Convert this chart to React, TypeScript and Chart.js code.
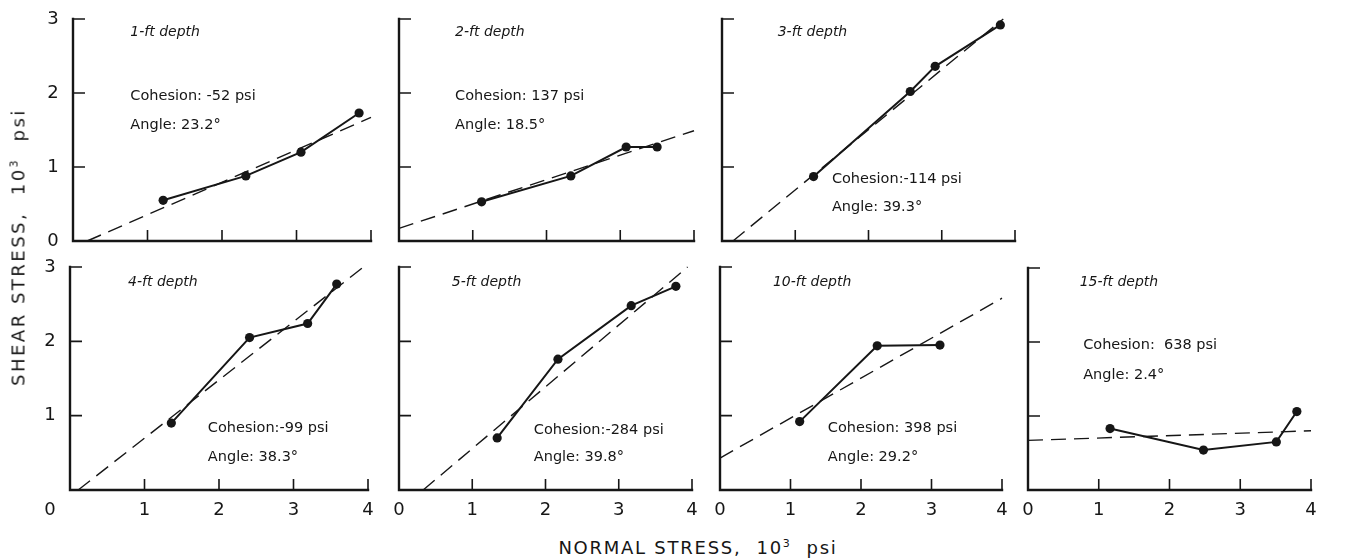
import React, { useEffect, useRef } from "react";
import { Chart, registerables } from "chart.js";

Chart.register(...registerables);

// ---------- data ----------
const xTickValues = [0, 1, 2, 3, 4];
const xTickLabels = ["0", "1", "2", "3", "4"];
const yTickValues = [0, 1, 2, 3];
const yTickLabels = ["0", "1", "2", "3"];

const depthLabels = ["1-ft depth", "2-ft depth", "3-ft depth", "4-ft depth", "5-ft depth", "10-ft depth", "15-ft depth"];
const cohesionLabels = [
  "Cohesion: -52 psi",
  "Cohesion: 137 psi",
  "Cohesion:-114 psi",
  "Cohesion:-99 psi",
  "Cohesion:-284 psi",
  "Cohesion: 398 psi",
  "Cohesion:  638 psi",
];
const angleLabels = ["Angle: 23.2°", "Angle: 18.5°", "Angle: 39.3°", "Angle: 38.3°", "Angle: 39.8°", "Angle: 29.2°", "Angle: 2.4°"];

// measured points (normal stress, shear stress; 10^3 psi)
const depth1X = [1.21, 2.32, 3.06, 3.84];
const depth1Y = [0.55, 0.88, 1.2, 1.73];
const depth2X = [1.12, 2.33, 3.08, 3.5];
const depth2Y = [0.53, 0.88, 1.27, 1.27];
const depth3X = [1.25, 2.57, 2.91, 3.8];
const depth3Y = [0.87, 2.02, 2.36, 2.92];
const depth4X = [1.36, 2.41, 3.19, 3.58];
const depth4Y = [0.9, 2.05, 2.24, 2.77];
const depth5X = [1.34, 2.17, 3.17, 3.78];
const depth5Y = [0.7, 1.76, 2.48, 2.74];
const depth10X = [1.13, 2.23, 3.12];
const depth10Y = [0.92, 1.94, 1.95];
const depth15X = [1.16, 2.48, 3.51, 3.8];
const depth15Y = [0.83, 0.54, 0.65, 1.06];

// fitted Mohr-Coulomb envelopes (end points)
const fit1X = [0.19, 4.0];
const fit1Y = [0.0, 1.67];
const fit2X = [0.0, 4.0];
const fit2Y = [0.17, 1.49];
const fit3X = [0.15, 3.84];
const fit3Y = [0.0, 3.0];
const fit4X = [0.11, 3.94];
const fit4Y = [0.0, 3.0];
const fit5X = [0.33, 3.94];
const fit5Y = [0.0, 3.0];
const fit10X = [0.0, 4.0];
const fit10Y = [0.43, 2.58];
const fit15X = [0.0, 4.0];
const fit15Y = [0.67, 0.8];

// ---------- layout ----------
const PAD = { left: 50, right: 14, top: 12, bottom: 36 };
const FONT = '"DejaVu Sans", "Liberation Sans", sans-serif';

type Panel = {
  box: { left: number; right: number; top: number; bottom: number };
  mx: number[]; my: number[]; fx: number[]; fy: number[];
  depthAt: [number, number]; cohAt: [number, number]; angAt: [number, number];
  yLabels: boolean; yZero: boolean; xLabels: boolean; xZeroAtYCol: boolean;
};

const panels: Panel[] = [
  { box: { left: 73, right: 371, top: 19, bottom: 241 }, mx: depth1X, my: depth1Y, fx: fit1X, fy: fit1Y,
    depthAt: [0.77, 2.82], cohAt: [0.77, 1.95], angAt: [0.77, 1.57], yLabels: true, yZero: true, xLabels: false, xZeroAtYCol: false },
  { box: { left: 399, right: 694, top: 19, bottom: 241 }, mx: depth2X, my: depth2Y, fx: fit2X, fy: fit2Y,
    depthAt: [0.76, 2.82], cohAt: [0.76, 1.95], angAt: [0.76, 1.56], yLabels: false, yZero: false, xLabels: false, xZeroAtYCol: false },
  { box: { left: 722, right: 1015, top: 19, bottom: 241 }, mx: depth3X, my: depth3Y, fx: fit3X, fy: fit3Y,
    depthAt: [0.76, 2.82], cohAt: [1.5, 0.84], angAt: [1.5, 0.46], yLabels: false, yZero: false, xLabels: false, xZeroAtYCol: false },
  { box: { left: 70, right: 368, top: 267, bottom: 490 }, mx: depth4X, my: depth4Y, fx: fit4X, fy: fit4Y,
    depthAt: [0.78, 2.8], cohAt: [1.85, 0.83], angAt: [1.85, 0.44], yLabels: true, yZero: false, xLabels: true, xZeroAtYCol: true },
  { box: { left: 399, right: 692, top: 267, bottom: 490 }, mx: depth5X, my: depth5Y, fx: fit5X, fy: fit5Y,
    depthAt: [0.72, 2.8], cohAt: [1.84, 0.81], angAt: [1.84, 0.44], yLabels: false, yZero: false, xLabels: true, xZeroAtYCol: false },
  { box: { left: 720, right: 1002, top: 267, bottom: 490 }, mx: depth10X, my: depth10Y, fx: fit10X, fy: fit10Y,
    depthAt: [0.75, 2.8], cohAt: [1.53, 0.83], angAt: [1.53, 0.44], yLabels: false, yZero: false, xLabels: true, xZeroAtYCol: false },
  { box: { left: 1028, right: 1311, top: 268, bottom: 490 }, mx: depth15X, my: depth15Y, fx: fit15X, fy: fit15Y,
    depthAt: [0.73, 2.8], cohAt: [0.78, 1.95], angAt: [0.78, 1.55], yLabels: false, yZero: false, xLabels: true, xZeroAtYCol: false },
];

const INK = "#161616";

function makePlugin(p: Panel, idx: number) {
  return {
    id: "handAxes" + idx,
    beforeDatasetsDraw(chart: any) {
      const { ctx } = chart;
      const xs = chart.scales.x;
      const ys = chart.scales.y;
      const x0 = xs.getPixelForValue(0);
      const x4 = xs.getPixelForValue(4);
      const y0 = ys.getPixelForValue(0);
      const y3 = ys.getPixelForValue(3);
      ctx.save();
      ctx.strokeStyle = INK;
      ctx.lineWidth = 2.4;
      ctx.lineCap = "square";
      ctx.beginPath();
      ctx.moveTo(x0, y3);
      ctx.lineTo(x0, y0);
      ctx.lineTo(x4, y0);
      ctx.stroke();
      ctx.lineWidth = 1.6;
      ctx.lineCap = "butt";
      ctx.beginPath();
      yTickValues.forEach((v) => {
        if (v === 0) return;
        const py = ys.getPixelForValue(v);
        ctx.moveTo(x0, py);
        ctx.lineTo(x0 + 12, py);
      });
      xTickValues.forEach((v) => {
        if (v === 0) return;
        const px = xs.getPixelForValue(v);
        ctx.moveTo(px, y0);
        ctx.lineTo(px, y0 - 11);
      });
      ctx.stroke();

      ctx.fillStyle = INK;
      ctx.font = `18px ${FONT}`;
      ctx.textAlign = "center";
      ctx.textBaseline = "middle";
      const labelColX = x0 - 20;
      if (p.yLabels) {
        yTickValues.forEach((v, i) => {
          if (v === 0 && !p.yZero) return;
          ctx.fillText(yTickLabels[i], labelColX, ys.getPixelForValue(v));
        });
      }
      if (p.xLabels) {
        xTickValues.forEach((v, i) => {
          const px = v === 0 && p.xZeroAtYCol ? labelColX : xs.getPixelForValue(v);
          ctx.fillText(xTickLabels[i], px, y0 + 20);
        });
      }
      ctx.restore();
    },
    afterDatasetsDraw(chart: any) {
      const { ctx } = chart;
      const xs = chart.scales.x;
      const ys = chart.scales.y;
      ctx.save();
      ctx.fillStyle = INK;
      ctx.textAlign = "left";
      ctx.textBaseline = "middle";
      ctx.font = `italic 14px ${FONT}`;
      ctx.fillText(depthLabels[idx], xs.getPixelForValue(p.depthAt[0]), ys.getPixelForValue(p.depthAt[1]));
      ctx.font = `14.5px ${FONT}`;
      ctx.fillText(cohesionLabels[idx], xs.getPixelForValue(p.cohAt[0]), ys.getPixelForValue(p.cohAt[1]));
      ctx.fillText(angleLabels[idx], xs.getPixelForValue(p.angAt[0]), ys.getPixelForValue(p.angAt[1]));
      ctx.restore();
    },
  };
}

export default function App() {
  const refs = useRef<(HTMLCanvasElement | null)[]>([]);

  useEffect(() => {
    const charts: Chart[] = [];
    panels.forEach((p, idx) => {
      const canvas = refs.current[idx];
      if (!canvas) return;
      const measured = p.mx.map((x, i) => ({ x, y: p.my[i] }));
      const fit = p.fx.map((x, i) => ({ x, y: p.fy[i] }));
      const chart = new Chart(canvas, {
        type: "line",
        data: {
          datasets: [
            {
              label: "fit",
              data: fit,
              borderColor: INK,
              borderWidth: 1.4,
              borderDash: [15, 8],
              pointRadius: 0,
              fill: false,
              clip: false as any,
            },
            {
              label: "measured",
              data: measured,
              borderColor: INK,
              backgroundColor: INK,
              borderWidth: 2,
              pointRadius: 4.6,
              pointBorderWidth: 0,
              pointBackgroundColor: INK,
              fill: false,
              tension: 0,
              clip: false as any,
            },
          ],
        },
        options: {
          animation: false,
          responsive: false,
          devicePixelRatio: 1,
          events: [],
          layout: { padding: PAD },
          scales: {
            x: { type: "linear", min: 0, max: 4, display: false },
            y: { type: "linear", min: 0, max: 3, display: false },
          },
          plugins: { legend: { display: false }, tooltip: { enabled: false } },
        },
        plugins: [makePlugin(p, idx)],
      });
      charts.push(chart);
    });
    return () => charts.forEach((c) => c.destroy());
  }, []);

  return (
    <div style={{ position: "absolute", left: 0, top: 0, width: 1349, height: 560, background: "#fff", overflow: "hidden" }}>
      {panels.map((p, idx) => {
        const w = p.box.right - p.box.left + PAD.left + PAD.right;
        const h = p.box.bottom - p.box.top + PAD.top + PAD.bottom;
        return (
          <canvas
            key={idx}
            ref={(el) => { refs.current[idx] = el; }}
            width={w}
            height={h}
            style={{ position: "absolute", left: p.box.left - PAD.left, top: p.box.top - PAD.top, width: w, height: h }}
          />
        );
      })}
      <div
        style={{
          position: "absolute", left: 18, top: 247, transform: "translate(-50%, -50%) rotate(-90deg)",
          whiteSpace: "pre", font: `18px ${FONT}`, color: INK, letterSpacing: "2.5px",
        }}
      >
        {"SHEAR STRESS,  10"}<sup style={{ fontSize: "11px" }}>3</sup>{"  psi"}
      </div>
      <div
        style={{
          position: "absolute", left: 698, top: 547, transform: "translate(-50%, -50%)",
          whiteSpace: "pre", font: `18px ${FONT}`, color: INK, letterSpacing: "1.75px",
        }}
      >
        {"NORMAL STRESS,  10"}<sup style={{ fontSize: "11px" }}>3</sup>{"  psi"}
      </div>
    </div>
  );
}
